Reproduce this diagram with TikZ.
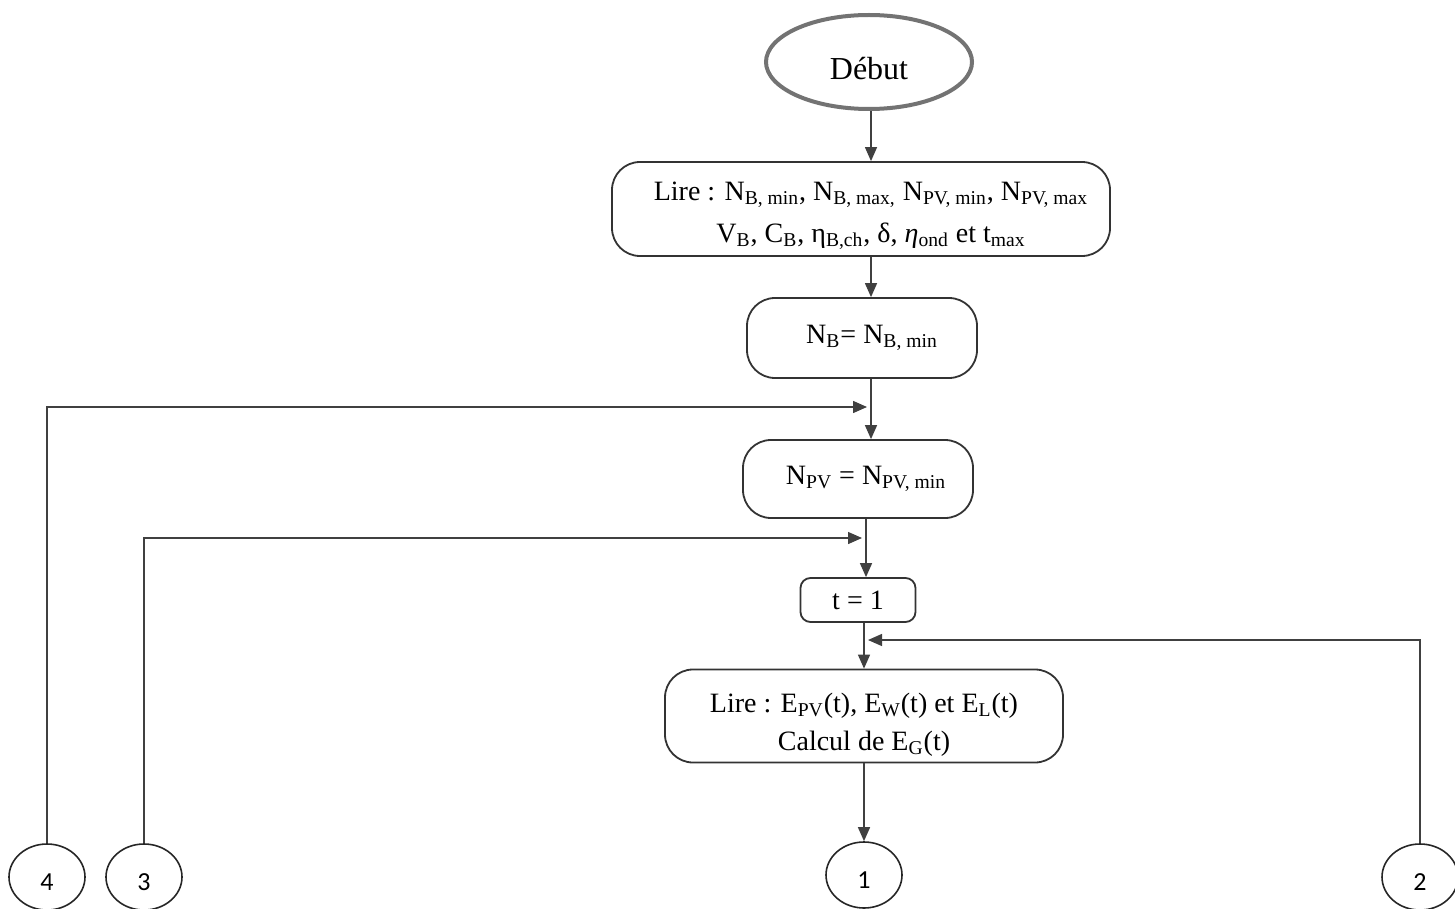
\documentclass[tikz,border=0pt]{standalone}
\usepackage{fontspec}
\setmainfont{Liberation Serif}
\newfontfamily\numfont{Carlito}
\usetikzlibrary{arrows.meta,shapes.geometric}
\newcommand{\sbs}[1]{\textsubscript{#1}}
\newcommand{\cnum}[1]{\raisebox{-6.5pt}[0pt][0pt]{#1}}
\begin{document}
\begin{tikzpicture}[x=0.5pt,y=-0.5pt,
 box/.style={draw=black!80, line width=0.9pt, rounded corners=14pt, align=center, inner sep=0pt, font=\fontsize{14}{19}\selectfont},
 conn/.style={draw=black!85, line width=0.8pt, ellipse, inner sep=0pt, minimum width=38pt, minimum height=33pt, font=\numfont\fontsize{13}{14}\selectfont},
 arr/.style={draw=black!75, line width=0.7pt, -{Triangle[length=7pt,width=6pt]}},
 ln/.style={draw=black!75, line width=0.7pt}]
\useasboundingbox (0,0) rectangle (1455,909);
\node[draw=black!55, line width=2pt, ellipse, minimum width=103pt, minimum height=47pt, inner sep=0pt, font=\fontsize{16}{18}\selectfont] (debut) at (869,62) {\raisebox{-9pt}[0pt][0pt]{Début}};
\node[box, minimum width=249pt, minimum height=47pt, font=\fontsize{14}{21}\selectfont] (lire1) at (861,209)
 {\rule{0pt}{16pt}\hspace*{10pt}Lire : N\sbs{B, min}, N\sbs{B, max,} N\sbs{PV, min}, N\sbs{PV, max}\\
  \hspace*{10pt}V\sbs{B}, C\sbs{B}, η\sbs{B,ch}, δ, \textit{η}\sbs{ond} et t\sbs{max}};
\node[box, minimum width=115pt, minimum height=40pt] (nb) at (862,338) {\hspace*{10pt}N\sbs{B}= N\sbs{B, min}};
\node[box, minimum width=115pt, minimum height=39pt] (npv) at (858,479) {\hspace*{8pt}N\sbs{PV} = N\sbs{PV, min}};
\node[box, rounded corners=5pt, minimum width=57.5pt, minimum height=22pt] (t1) at (858,600) {t = 1};
\node[box, minimum width=199pt, minimum height=46.5pt] (lire2) at (864,716)
 {\rule{0pt}{18pt}Lire : E\sbs{PV}(t), E\sbs{W}(t) et E\sbs{L}(t)\\ Calcul de E\sbs{G}(t)};
\node[conn] (c1) at (864,875) {\cnum{1}};
\node[conn] (c2) at (1420,877) {\cnum{2}};
\node[conn] (c3) at (144,877) {\cnum{3}};
\node[conn] (c4) at (47,877) {\cnum{4}};
\coordinate (sp1) at (871,0);
\coordinate (sp2) at (866,0);
\coordinate (j1) at (867,407);
\coordinate (j2) at (862,538);
\coordinate (j3) at (868,640);
\draw[arr] (debut.south -| sp1) -- (lire1.north -| sp1);
\draw[arr] (lire1.south -| sp1) -- (nb.north -| sp1);
\draw[arr] (nb.south -| sp1) -- (npv.north -| sp1);
\draw[arr] (npv.south -| sp2) -- (t1.north -| sp2);
\draw[arr] (t1.south -| lire2) -- (lire2.north);
\draw[arr] (lire2.south) -- (c1.north);
\draw[arr] (c4.north) |- (j1);
\draw[arr] (c3.north) |- (j2);
\draw[arr] (c2.north) |- (j3);
\end{tikzpicture}
\end{document}
